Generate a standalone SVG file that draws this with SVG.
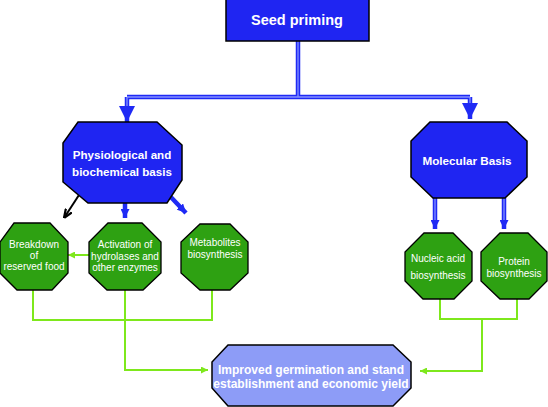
<svg xmlns="http://www.w3.org/2000/svg" width="548" height="407" viewBox="0 0 548 407">
<defs>
<style>
.bl{fill:#1f25f2;stroke:#000;stroke-width:1.5}
.gr{fill:#2ea112;stroke:#000;stroke-width:1.3}
.lb{fill:#8d9cf7;stroke:#000;stroke-width:1.5}
.bo{fill:none;stroke:#1f2af5;stroke-width:4.5}
.bi{fill:none;stroke:#8591ff;stroke-width:1.3}
.gl{fill:none;stroke:#7ee81c;stroke-width:2}
.bk{fill:none;stroke:#000;stroke-width:2}
.tb{font-family:"Liberation Sans",Arial,sans-serif;font-weight:bold;fill:#fff;text-anchor:middle}
.tn{font-family:"Liberation Sans",Arial,sans-serif;font-size:10px;fill:#fff;text-anchor:middle}
</style>
<marker id="ab" markerUnits="userSpaceOnUse" markerWidth="16" markerHeight="16" viewBox="0 0 16 16" refX="16" refY="8" orient="auto"><path d="M0,0 L16,8 L0,16 Z" fill="#1f2af5"/></marker>
<marker id="as" markerUnits="userSpaceOnUse" markerWidth="9" markerHeight="9" viewBox="0 0 10 10" refX="10" refY="5" orient="auto"><path d="M0,0 L10,5 L0,10 Z" fill="#1f2af5"/></marker>
<marker id="ak" markerUnits="userSpaceOnUse" markerWidth="9" markerHeight="9" viewBox="0 0 10 10" refX="10" refY="5" orient="auto"><path d="M0,1 L10,5 L0,9" fill="none" stroke="#000" stroke-width="2.5"/></marker>
<marker id="ag" markerUnits="userSpaceOnUse" markerWidth="7" markerHeight="7" viewBox="0 0 10 10" refX="10" refY="5" orient="auto"><path d="M0,0 L10,5 L0,10 Z" fill="#7ee81c"/></marker>
</defs>

<g id="connectors">
<path class="bo" d="M298,41 V97 M127,97 H470"/>
<path class="bo" d="M127,97 V122" marker-end="url(#ab)"/>
<path class="bo" d="M470,97 V119" marker-end="url(#ab)"/>
<path class="bi" d="M298,41 V97 M127,97 H470 M127,97 V106 M470,97 V103"/>
<path class="bo" d="M125,203 V218" stroke-width="3" marker-end="url(#as)"/>
<path class="bo" d="M167,193 L186,213" stroke-width="3" marker-end="url(#as)"/>
<path class="bk" d="M79,195 L64,218" marker-end="url(#ak)"/>
<path class="bo" d="M435,198 V229" stroke-width="3" marker-end="url(#as)"/>
<path class="bo" d="M504,198 V229" stroke-width="3" marker-end="url(#as)"/>
<path class="bi" d="M435,198 V220 M504,198 V220" stroke-width="1"/>
<path class="gl" d="M89,255 H68" marker-end="url(#ag)"/>
<path class="gl" d="M33,290 V320 H212 V290"/>
<path class="gl" d="M125,290 V370 H208" marker-end="url(#ag)"/>
<path class="gl" d="M440,299 V319 H517 V299"/>
<path class="gl" d="M482,319 V371 H420" marker-end="url(#ag)"/>
</g>

<g id="seed-priming">
<rect class="bl" x="226" y="-1" width="143" height="42"/>
<text class="tb" x="297" y="25" font-size="14.5">Seed priming</text>
</g>

<g id="physiological">
<polygon class="bl" points="78,122 157,122 182,145 182,180 167,203 88,203 63,182 63,143"/>
<text class="tb" x="122" y="159" font-size="11.6">Physiological and</text>
<text class="tb" x="122" y="176" font-size="11.6">biochemical basis</text>
</g>

<g id="molecular">
<polygon class="bl" points="430,122 507,122 527,141 527,177 505,198 433,198 411,177 411,141"/>
<text class="tb" x="467" y="165" font-size="11.7">Molecular Basis</text>
</g>

<g id="breakdown">
<polygon class="gr" points="14,223 50,223 68,242 68,273 52,290 17,290 0,273 0,242"/>
<text class="tn" x="34" y="248">Breakdown</text>
<text class="tn" x="34" y="259">of</text>
<text class="tn" x="34" y="270">reserved food</text>
</g>

<g id="activation">
<polygon class="gr" points="108,223 142,223 161,242 161,273 143,290 107,290 89,273 89,242"/>
<text class="tn" x="125" y="248">Activation of</text>
<text class="tn" x="125" y="260">hydrolases and</text>
<text class="tn" x="125" y="271">other enzymes</text>
</g>

<g id="metabolites">
<polygon class="gr" points="200,224 230,224 248,242 248,273 230,290 200,290 181,273 181,242"/>
<text class="tn" x="215" y="246">Metabolites</text>
<text class="tn" x="215" y="258">biosynthesis</text>
</g>

<g id="nucleic">
<polygon class="gr" points="424,233 453,233 472,252 472,281 454,299 423,299 405,281 405,252"/>
<text class="tn" x="438" y="262">Nucleic acid</text>
<text class="tn" x="438" y="279">biosynthesis</text>
</g>

<g id="protein">
<polygon class="gr" points="500,233 528,233 547,252 547,281 529,299 500,299 481,281 481,252"/>
<text class="tn" x="514" y="265">Protein</text>
<text class="tn" x="514" y="277">biosynthesis</text>
</g>

<g id="improved">
<polygon class="lb" points="228,345 393,345 411,362 411,388 393,406 228,406 212,388 212,362"/>
<text class="tb" x="311" y="374" font-size="12">Improved germination and stand</text>
<text class="tb" x="311" y="388" font-size="12">establishment and economic yield</text>
</g>
</svg>
